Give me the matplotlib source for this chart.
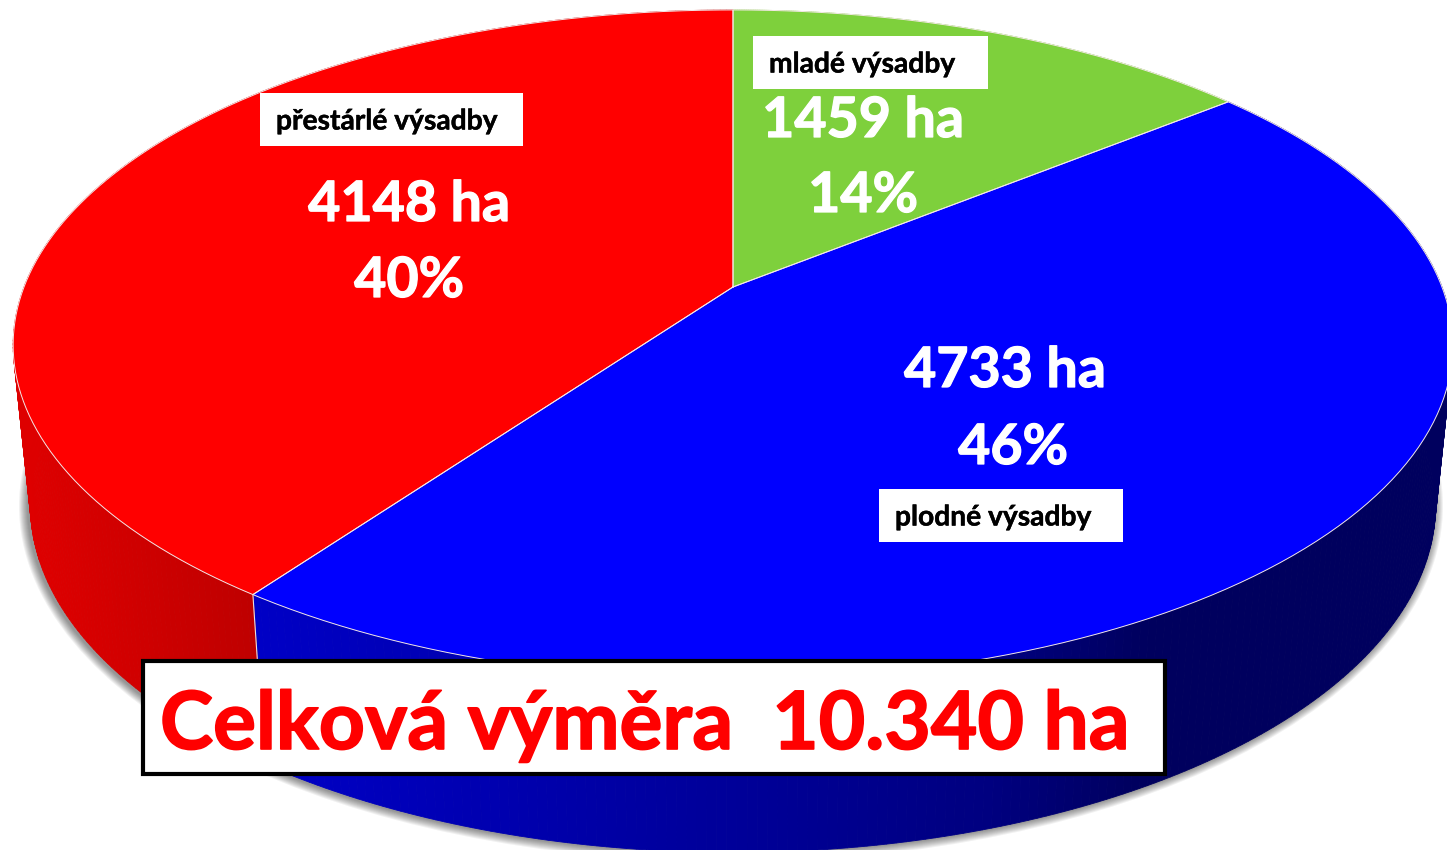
# -*- coding: utf-8 -*-
import numpy as np
import matplotlib
matplotlib.use("Agg")
import matplotlib.pyplot as plt
import matplotlib.patheffects as pe
from matplotlib.patches import Ellipse, Rectangle

plt.rcParams['font.family'] = ['Lato', 'DejaVu Sans']

# Data
labels = ['mladé výsadby', 'plodné výsadby', 'přestárlé výsadby']
hectares = [1459, 4733, 4148]
percents = [14, 46, 40]
colors = ['#7ed03c', '#0000ff', '#ff0000']
total_label = 'Celková výměra  10.340 ha'

# Perspective of the disc, in picture pixels
K = 0.173
TOP = dict(cx=733, cy=287, a=709, b=325)
LOW = dict(cx=733, cy=445, a=692, b=337)


def project(theta, p):
    # theta is clockwise from 12 o'clock
    u = np.sin(theta)
    v = np.cos(theta)
    d = 1 + K * v
    return p['cx'] + p['a'] * u / d, p['cy'] - p['b'] * v / d


def side_color(name, x):
    # shading of the side wall changes from left to right
    if name == 'red':
        c = np.interp(x, [30, 250], [0.87, 0.75])
        return (c, 0, 0)
    c = np.interp(x, [250, 1000, 1150], [0.78, 0.50, 0.37])
    return (0, 0, c)


def bolder(color, width):
    # Lato bold is a bit thinner than the reference lettering
    return [pe.withStroke(linewidth=width, foreground=color)]


fig = plt.figure(figsize=(14.47, 8.5), dpi=100)
ax = fig.add_axes([0, 0, 1, 1])
ax.set_xlim(0, 1447)
ax.set_ylim(850, 0)
ax.axis('off')

# Shadow under the disc
for d in range(1, 10):
    ax.add_patch(Ellipse((731, 506), 2 * (703 + d), 2 * (347 + d), fc='black',
                         ec='none', alpha=0.055, zorder=1))

# Slices
fractions = np.array(hectares) / sum(hectares)
edges = np.concatenate([[0], np.cumsum(fractions)]) * 2 * np.pi

for i in range(len(hectares)):
    t = np.linspace(edges[i], edges[i + 1], 240)
    xt, yt = project(t, TOP)
    xl, yl = project(t, LOW)

    # side wall, strip by strip
    for j in range(len(t) - 1):
        if colors[i] == '#ff0000':
            col = side_color('red', xt[j])
        elif colors[i] == '#0000ff':
            col = side_color('blue', xt[j])
        else:
            col = colors[i]
        ax.fill([xt[j], xt[j + 1], xl[j + 1], xl[j]],
                [yt[j], yt[j + 1], yl[j + 1], yl[j]],
                fc=col, ec=col, lw=0.6, zorder=2)

for i in range(len(hectares)):
    t = np.linspace(edges[i], edges[i + 1], 240)
    xt, yt = project(t, TOP)
    xs = np.concatenate([[TOP['cx']], xt])
    ys = np.concatenate([[TOP['cy']], yt])
    ax.fill(xs, ys, fc=colors[i], ec='none', zorder=3)
    ax.plot(np.append(xs, xs[0]), np.append(ys, ys[0]), color='#f4e8e8', lw=0.7, zorder=4)

# Wall seam between red and blue
xa, ya = project(edges[2], TOP)
xb, yb = project(edges[2], LOW)
ax.plot([xa, xb], [ya, yb], color='#e8e0e0', lw=0.8, zorder=4)

# Value labels
value_pos = [(863, 121, 196), (1005, 371, 448), (409, 205, 281)]
for h, p, (x, y1, y2) in zip(hectares, percents, value_pos):
    ax.text(x, y1, f'{h} ha', color='white', fontsize=40, fontweight='bold',
            ha='center', va='center', zorder=6, path_effects=bolder('white', 0.9))
    x2 = x + 8 if h == 4733 else x
    ax.text(x2, y2, f'{p}%', color='white', fontsize=40, fontweight='bold',
            ha='center', va='center', zorder=6, path_effects=bolder('white', 0.9))

# Name boxes
box_pos = [(753, 36, 235, 53), (879, 489, 244, 53), (260, 93, 263, 53)]
for name, (x, y, w, h) in zip(labels, box_pos):
    ax.add_patch(Rectangle((x, y), w, h, fc='white', ec='none', zorder=5))
    ax.text(x + 16, y + h / 2 + 2, name, color='black', fontsize=20.3, fontweight='bold',
            ha='left', va='center', zorder=6, path_effects=bolder('black', 0.3))

# Total box
ax.add_patch(Rectangle((143, 661), 1022, 113, fc='white', ec='black', lw=3, zorder=7))
ax.text(160, 726, total_label, color='#ff0000', fontsize=57.8, fontweight='bold',
        ha='left', va='center', zorder=8, path_effects=bolder('#ff0000', 1.2))

fig.savefig('out.png', dpi=100)
